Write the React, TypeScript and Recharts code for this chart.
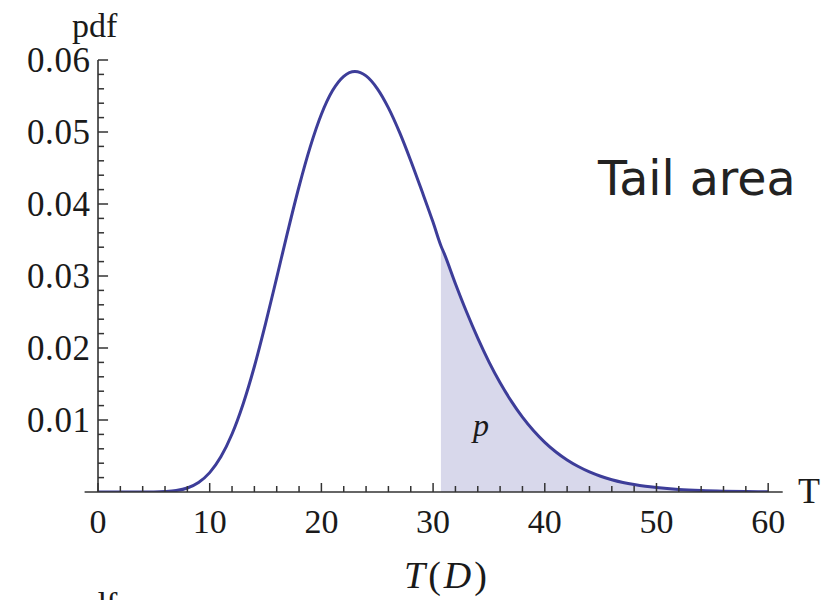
import { ComposedChart, Line, Area, XAxis, YAxis, ReferenceLine } from 'recharts'

// T values and density
const tValues = [
  0, 1, 2, 3, 4, 5, 6, 7, 8, 9, 10, 11, 12, 13, 14, 15, 16, 17, 18, 19, 20,
  21, 22, 23, 24, 25, 26, 27, 28, 29, 30, 31, 32, 33, 34, 35, 36, 37, 38, 39, 40,
  41, 42, 43, 44, 45, 46, 47, 48, 49, 50, 52, 54, 56, 58, 60,
]
const pdfValues = [
  0, 0, 0, 0, 0.000001, 0.00001, 0.00006, 0.0002, 0.00056, 0.00132, 0.00269,
  0.00488, 0.00805, 0.01226, 0.01743, 0.02338, 0.02978, 0.03626, 0.04243, 0.04793, 0.05246,
  0.05575, 0.05773, 0.0584, 0.05779, 0.05603, 0.05335, 0.04994, 0.04601, 0.04179, 0.03745,
  0.03311, 0.02893, 0.025, 0.02137, 0.01808, 0.01517, 0.01262, 0.01039, 0.0085, 0.0069,
  0.00556, 0.00445, 0.00354, 0.00279, 0.00219, 0.00171, 0.00133, 0.00103, 0.00079, 0.00061,
  0.00035, 0.0002, 0.00011, 0.00006, 0.00003,
]
const tailStart = 30.7
const tailStartPdf = 0.0342

const xTickLabels = [0, 10, 20, 30, 40, 50, 60]
const xMinorTicks = [2, 4, 6, 8, 12, 14, 16, 18, 22, 24, 26, 28, 32, 34, 36, 38, 42, 44, 46, 48, 52, 54, 56, 58]
const yTickLabels = [0.01, 0.02, 0.03, 0.04, 0.05, 0.06]
const yMinorTicks = [
  0.002, 0.004, 0.006, 0.008, 0.012, 0.014, 0.016, 0.018, 0.022, 0.024, 0.026, 0.028,
  0.032, 0.034, 0.036, 0.038, 0.042, 0.044, 0.046, 0.048, 0.052, 0.054, 0.056, 0.058,
]

const serif = "'Liberation Serif', 'Times New Roman', serif"
const blue = '#3d3d99'
const axisColor = '#333'
const textColor = '#1a1a1a'

const rows: { t: number; pdf: number; tail: number | null }[] = []
tValues.forEach((t, i) => {
  if (t > tailStart && (i === 0 || tValues[i - 1] < tailStart)) {
    rows.push({ t: tailStart, pdf: tailStartPdf, tail: tailStartPdf })
  }
  rows.push({ t, pdf: pdfValues[i], tail: t >= tailStart ? pdfValues[i] : null })
})

const XTick = ({ x, y, payload }: any) => (
  <text x={x} y={y + 41} textAnchor="middle" fontFamily={serif} fontSize={34} fill={textColor}>
    {payload.value}
  </text>
)

const YTick = ({ x, y, payload }: any) => (
  <text x={x + 6} y={y + 12} textAnchor="end" fontFamily={serif} fontSize={35} letterSpacing={0.6} fill={textColor}>
    {Number(payload.value).toFixed(2)}
  </text>
)

export default function App() {
  return (
    <div style={{ position: 'absolute', left: 0, top: 0, width: 835, height: 600, background: '#fff' }}>
      <ComposedChart
        width={835}
        height={600}
        data={rows}
        margin={{ top: 60, right: 52.3, bottom: 68, left: 24.6 }}
      >
        <XAxis
          dataKey="t"
          type="number"
          domain={[-1.2, 61.3]}
          allowDataOverflow
          ticks={xTickLabels}
          interval={0}
          tickSize={0}
          tickMargin={0}
          tickLine={false}
          tick={<XTick />}
          axisLine={{ stroke: axisColor, strokeWidth: 1.6 }}
          height={40}
        />
        <YAxis
          type="number"
          domain={[0, 0.06]}
          allowDataOverflow
          ticks={yTickLabels}
          interval={0}
          tickSize={0}
          tickMargin={0}
          tickLine={false}
          tick={<YTick />}
          axisLine={false}
          width={60}
        />
        <Area
          dataKey="tail"
          type="monotone"
          stroke="none"
          fill={blue}
          fillOpacity={0.2}
          isAnimationActive={false}
        />
        <Line
          dataKey="pdf"
          type="monotone"
          stroke={blue}
          strokeWidth={3}
          dot={false}
          isAnimationActive={false}
        />
        {/* y axis sits at T = 0 */}
        <ReferenceLine segment={[{ x: 0, y: 0 }, { x: 0, y: 0.06 }]} stroke={axisColor} strokeWidth={1.6} />
        {xTickLabels.map(t => (
          <ReferenceLine key={'xM' + t} segment={[{ x: t, y: 0 }, { x: t, y: 0.00125 }]} stroke={axisColor} strokeWidth={1.5} />
        ))}
        {xMinorTicks.map(t => (
          <ReferenceLine key={'xm' + t} segment={[{ x: t, y: 0 }, { x: t, y: 0.00083 }]} stroke={axisColor} strokeWidth={1.5} />
        ))}
        {yTickLabels.map(v => (
          <ReferenceLine key={'yM' + v} segment={[{ x: 0, y: v }, { x: 0.9, y: v }]} stroke={axisColor} strokeWidth={1.5} />
        ))}
        {yMinorTicks.map(v => (
          <ReferenceLine key={'ym' + v} segment={[{ x: 0, y: v }, { x: 0.54, y: v }]} stroke={axisColor} strokeWidth={1.5} />
        ))}
      </ComposedChart>
      <svg width={835} height={600} style={{ position: 'absolute', left: 0, top: 0, pointerEvents: 'none' }}>
        <text x={72} y={37} fontFamily={serif} fontSize={34} fill={textColor}>pdf</text>
        <text x={798} y={503} fontFamily={serif} fontSize={36} fill={textColor}>T</text>
        <text x={447} y={588} textAnchor="middle" fontFamily={serif} fontSize={38} letterSpacing={3} fill={textColor}>
          <tspan fontStyle="italic">T</tspan>(<tspan fontStyle="italic">D</tspan>)
        </text>
        <text x={481} y={436} textAnchor="middle" fontFamily={serif} fontStyle="italic" fontSize={32} fill={textColor}>p</text>
        <text x={598} y={195} fontFamily="'DejaVu Sans', sans-serif" fontSize={47.5} fill="#222">Tail area</text>
        {/* top of the next panel's label, cut by the frame as in the reference */}
        <text x={72} y={616} fontFamily={serif} fontSize={34} fill={textColor}>pdf</text>
      </svg>
    </div>
  )
}
